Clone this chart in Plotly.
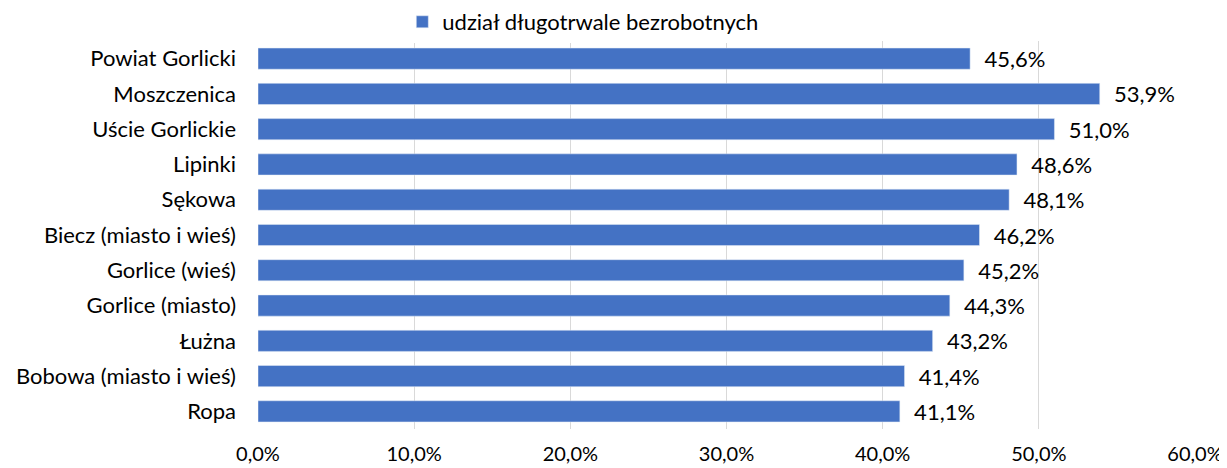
import plotly.graph_objects as go

# categories, top to bottom as shown
gminy = ['Powiat Gorlicki', 'Moszczenica', 'Uście Gorlickie', 'Lipinki', 'Sękowa',
         'Biecz (miasto i wieś)', 'Gorlice (wieś)', 'Gorlice (miasto)', 'Łużna',
         'Bobowa (miasto i wieś)', 'Ropa']
udzial = [0.456, 0.539, 0.510, 0.486, 0.481, 0.462, 0.452, 0.443, 0.432, 0.414, 0.411]
x_ticks = [0, 0.1, 0.2, 0.3, 0.4, 0.5, 0.6]

FONT = 'Lato'
FS = 22

fig = go.Figure()
fig.add_trace(go.Bar(
    y=gminy, x=udzial, orientation='h', name='udział długotrwale bezrobotnych',
    marker=dict(color='#4472c4'), width=0.6,
    texttemplate='  %{x:.1%}', textposition='outside', cliponaxis=False,
    constraintext='none',
    textfont=dict(family=FONT, size=FS, color='#000000'),
))

# page body has an 8px margin, so the figure is sized/offset for that
fig.update_layout(
    width=1219, height=460,
    margin=dict(l=250, r=32, t=33, b=39, autoexpand=False),
    paper_bgcolor='white', plot_bgcolor='white',
    separators=', ',
    font=dict(family=FONT, size=FS, color='#000000'),
    showlegend=True,
    legend=dict(orientation='h', x=0.154, xanchor='left', y=1.049, yanchor='middle',
                font=dict(family=FONT, size=FS, color='#000000')),
    bargap=0.4,
)
fig.update_xaxes(range=[0, 0.6], tickvals=x_ticks, tickformat='.1%',
                 tickfont=dict(family=FONT, size=20, color='#000000'),
                 showgrid=True, gridcolor='#d9d9d9', gridwidth=1,
                 zeroline=False, showline=False, ticklabelstandoff=11,
                 automargin=False)
fig.update_yaxes(autorange='reversed', showgrid=False, zeroline=False,
                 showline=False, ticks='', ticklabelstandoff=21,
                 automargin=False)

fig.write_html('out.html')
